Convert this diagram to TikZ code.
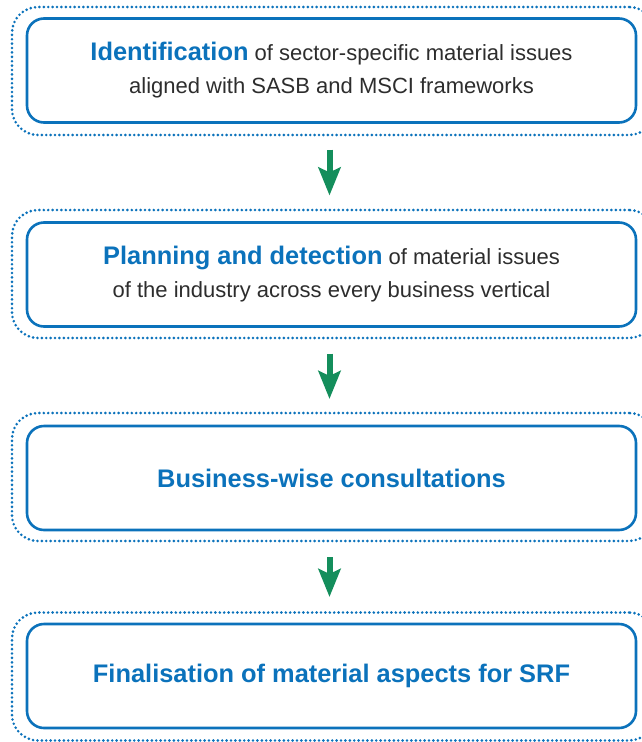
\documentclass[tikz,border=0pt]{standalone}
\usepackage{fontspec}
\setmainfont{Liberation Sans}
\usetikzlibrary{positioning}
\usetikzlibrary{arrows.meta}

\definecolor{srfblue}{RGB}{11,114,187}
\definecolor{srfgray}{RGB}{45,45,45}
\definecolor{srfgreen}{RGB}{20,142,92}

\newcommand{\steptitle}[1]{{\fontsize{25.4}{33}\selectfont\bfseries\color{srfblue}#1}}

\begin{document}
\begin{tikzpicture}[x=1pt,y=-1pt,
    stepbox/.style={draw=srfblue, line width=2.6pt, rounded corners=17pt,
      minimum width=609pt, minimum height=104pt, inner sep=0pt, outer sep=0pt,
      align=center, text=srfgray, font=\fontsize{22}{33}\selectfont},
    dotframe/.style={draw=srfblue, line width=2.9pt, line cap=round,
      dash pattern=on 0pt off 4.4pt, rounded corners=26pt,
      minimum width=643pt, minimum height=128pt, inner sep=0pt, outer sep=0pt},
    flow/.style={draw=srfgreen, line width=6pt,
      -{Stealth[length=28pt,width=22pt,inset=5pt]}}]
    \useasboundingbox (0,0) rectangle (642,742);

    % Dotted outer frames
    \node[dotframe] (frame1) at (333.5,71) {};
    \node[dotframe] (frame2) at (333.5,274) {};
    \node[dotframe] (frame3) at (333.5,477) {};
    \node[dotframe] (frame4) at (333.5,676.5) {};

    % The four steps
    \node[stepbox] (step1) at (331.5,70.5)
      {\steptitle{Identification} of sector-specific material issues\\
       aligned with SASB and MSCI frameworks};
    \node[stepbox] (step2) at (331.5,274.5)
      {\steptitle{Planning and detection} of material issues\\
       of the industry across every business vertical};
    \node[stepbox] (step3) at (331.5,478)
      {\steptitle{Business-wise consultations}};
    \node[stepbox] (step4) at (331.5,676)
      {\steptitle{Finalisation of material aspects for SRF}};

    % Green arrows between steps
    \draw[flow] ([xshift=-2pt,yshift=-27pt]step1.south) -- ([xshift=-2pt,yshift=27pt]step2.north);
    \draw[flow] ([xshift=-2pt,yshift=-27pt]step2.south) -- ([xshift=-2pt,yshift=27pt]step3.north);
    \draw[flow] ([xshift=-2pt,yshift=-27pt]step3.south) -- ([xshift=-2pt,yshift=27pt]step4.north);
\end{tikzpicture}
\end{document}
